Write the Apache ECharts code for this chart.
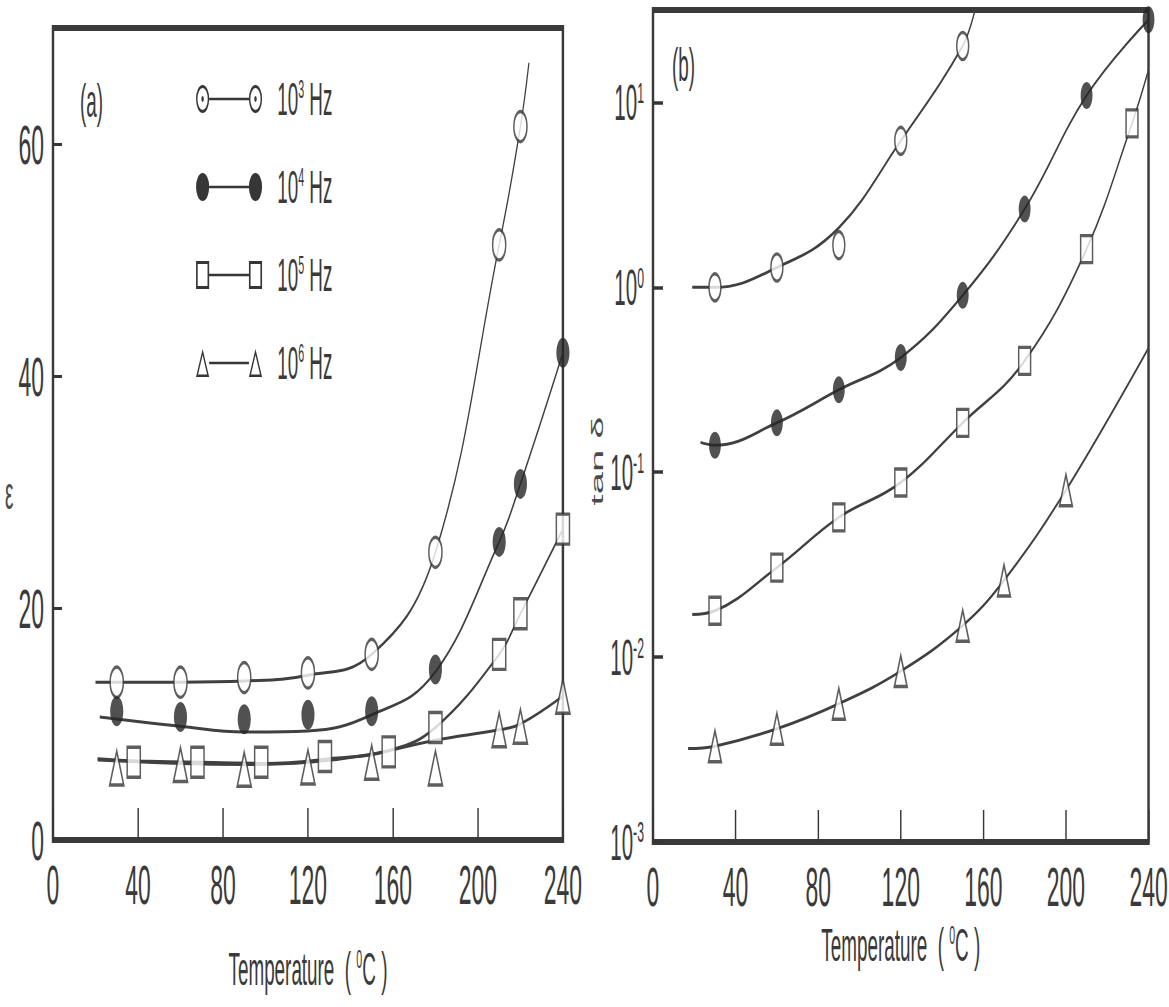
<!DOCTYPE html>
<html>
<head>
<meta charset="utf-8">
<script src="https://cdn.jsdelivr.net/npm/echarts@6/dist/echarts.min.js"></script>
<style>
  html, body { margin: 0; padding: 0; background: #fff; overflow: hidden; }
  /* the figure is horizontally squeezed, so draw wide and squeeze */
  #chart { height: 1007px; transform-origin: 0 0; }
</style>
</head>
<body>
<div id="chart"></div>
<script>
// ---- panel (a): permittivity vs temperature
const a3T = [30, 60, 90, 120, 150, 180, 210, 220];
const a3 = [13.6, 13.6, 14.0, 14.4, 16.0, 24.8, 51.3, 61.5];
const a3CurveT = [20, 60, 90, 120, 150, 180, 210, 220, 224];
const a3Curve = [13.6, 13.6, 13.7, 14.2, 16.0, 24.8, 51.3, 61.5, 67.0];

const a4T = [30, 60, 90, 120, 150, 180, 210, 220, 240];
const a4 = [11.1, 10.6, 10.4, 10.8, 11.1, 14.7, 25.7, 30.7, 42.0];
const a4CurveT = [22, 60, 90, 120, 150, 180, 210, 220, 240];
const a4Curve = [10.6, 9.8, 9.3, 9.4, 10.8, 14.5, 25.7, 30.7, 42.0];

const a5T = [38, 68, 98, 128, 158, 180, 210, 220, 240];
const a5 = [6.7, 6.7, 6.7, 7.2, 7.6, 9.7, 16.0, 19.5, 26.8];
const a5CurveT = [21, 40, 70, 100, 130, 158, 180, 210, 220, 240];
const a5Curve = [7.0, 6.8, 6.7, 6.6, 7.0, 7.7, 9.7, 16.0, 19.5, 26.8];

const a6T = [30, 60, 90, 120, 150, 180, 210, 220, 240];
const a6 = [6.2, 6.5, 6.1, 6.3, 6.7, 6.2, 9.5, 9.8, 12.4];
const a6CurveT = [21, 60, 90, 120, 150, 180, 210, 220, 240];
const a6Curve = [6.9, 6.6, 6.5, 6.7, 7.4, 8.6, 9.5, 10.0, 12.4];

// ---- panel (b): tan delta vs temperature
const b3T = [30, 60, 90, 120, 150];
const b3 = [1.0, 1.28, 1.69, 6.2, 20.2];
const b3CurveT = [19, 30, 60, 90, 120, 150, 156];
const b3Curve = [1.0, 1.0, 1.28, 2.1, 6.2, 20.2, 31.6];

const b4T = [30, 60, 90, 120, 150, 180, 210, 240];
const b4 = [0.140, 0.185, 0.279, 0.417, 0.905, 2.65, 10.9, 28.0];
const b4CurveT = [23, 30, 60, 90, 120, 150, 180, 210, 240];
const b4Curve = [0.145, 0.140, 0.185, 0.279, 0.417, 0.905, 2.65, 10.9, 28.0];

const b5T = [30, 60, 90, 120, 150, 180, 210, 232];
const b5 = [0.0178, 0.0305, 0.057, 0.088, 0.185, 0.40, 1.61, 7.7];
const b5CurveT = [19, 30, 60, 90, 120, 150, 180, 210, 232, 240];
const b5Curve = [0.017, 0.0178, 0.0305, 0.057, 0.088, 0.185, 0.40, 1.61, 7.7, 15.0];

const b6T = [30, 60, 90, 120, 150, 170, 200];
const b6 = [0.0033, 0.0041, 0.0056, 0.0084, 0.0148, 0.026, 0.080];
const b6CurveT = [17, 30, 60, 90, 120, 150, 170, 200, 240];
const b6Curve = [0.0032, 0.0033, 0.0041, 0.0056, 0.0084, 0.0148, 0.026, 0.080, 0.47];

const freqNames = ['10^3 Hz', '10^4 Hz', '10^5 Hz', '10^6 Hz'];
const xTicks = [0, 40, 80, 120, 160, 200, 240];

const S = 0.41;               // horizontal squeeze
const px = v => v / S;        // final px -> drawing px (horizontal only)
const ink = '#363636';
const txt = '#3a3a3a';
const narrow = '"Liberation Sans Narrow", "Liberation Sans", Arial, sans-serif';

const el = document.getElementById('chart');
el.style.width = px(1169) + 'px';
el.style.transform = 'scaleX(' + S + ')';

const pairs = (xs, ys) => xs.map((x, i) => [x, ys[i]]);

// legend icons: marker - line - marker (ring / disc / box / triangle)
const R = 16, H = 28, c1 = R, c2 = 161 - R;
const ring = c => `M${c - R},${H / 2} A${R},${H / 2} 0 1,0 ${c + R},${H / 2} A${R},${H / 2} 0 1,0 ${c - R},${H / 2} Z ` +
  `M${c - R + 3.5},${H / 2} A${R - 3.5},${H / 2 - 3} 0 1,1 ${c + R - 3.5},${H / 2} A${R - 3.5},${H / 2 - 3} 0 1,1 ${c - R + 3.5},${H / 2} Z ` +
  `M${c - 3},${H / 2} A3,3 0 1,0 ${c + 3},${H / 2} A3,3 0 1,0 ${c - 3},${H / 2} Z `;
const disc = c => `M${c - R},${H / 2} A${R},${H / 2} 0 1,0 ${c + R},${H / 2} A${R},${H / 2} 0 1,0 ${c - R},${H / 2} Z `;
const box = c => `M${c - R},0 L${c + R},0 L${c + R},${H} L${c - R},${H} Z ` +
  `M${c - R + 4},3 L${c - R + 4},${H - 3} L${c + R - 4},${H - 3} L${c + R - 4},3 Z `;
const tri = c => `M${c},0 L${c + R},${H} L${c - R},${H} Z ` +
  `M${c},6 L${c - R + 5},${H - 2.5} L${c + R - 5},${H - 2.5} Z `;
const bar = `M${2 * R},${H / 2 - 1.3} L${161 - 2 * R},${H / 2 - 1.3} L${161 - 2 * R},${H / 2 + 1.3} L${2 * R},${H / 2 + 1.3} Z`;
const icons = [ring, disc, box, tri].map(f => 'path://' + f(c1) + f(c2) + bar);

const markerStyles = [
  { symbol: 'circle', itemStyle: { color: '#fff', borderColor: ink, borderWidth: 3.5 } },
  { symbol: 'circle', itemStyle: { color: '#262626' } },
  { symbol: 'rect', itemStyle: { color: '#fff', borderColor: ink, borderWidth: 3.5 } },
  { symbol: 'triangle', itemStyle: { color: '#fff', borderColor: ink, borderWidth: 3.5 } }
];

const panelA = [[a3T, a3, a3CurveT, a3Curve], [a4T, a4, a4CurveT, a4Curve],
                [a5T, a5, a5CurveT, a5Curve], [a6T, a6, a6CurveT, a6Curve]];
const panelB = [[b3T, b3, b3CurveT, b3Curve], [b4T, b4, b4CurveT, b4Curve],
                [b5T, b5, b5CurveT, b5Curve], [b6T, b6, b6CurveT, b6Curve]];

const series = [];
[panelA, panelB].forEach((panel, p) => {
  panel.forEach((d, k) => {
    series.push({
      name: freqNames[k], type: 'line', xAxisIndex: p, yAxisIndex: p,
      data: pairs(d[2], d[3]), smooth: 0.4, symbol: 'none', z: 2,
      lineStyle: { color: '#404040', width: 3 }
    });
    const size = p === 0 ? [32, 30] : [29, 27];
    series.push({
      name: freqNames[k], type: 'scatter', xAxisIndex: p, yAxisIndex: p,
      data: pairs(d[0], d[1]), z: 3,
      symbol: markerStyles[k].symbol,
      symbolSize: k === 3 ? [size[0] + 2, size[1] + 4] : size,
      itemStyle: markerStyles[k].itemStyle
    });
  });
});

const supStyle = size => ({ fontSize: size, verticalAlign: 'top', fontFamily: narrow, color: txt });

function xAxis(grid, gap) {
  return {
    type: 'value', gridIndex: grid, min: xTicks[0], max: xTicks[xTicks.length - 1],
    interval: xTicks[1] - xTicks[0],
    axisLine: { show: false },
    axisTick: { inside: true, length: 32, lineStyle: { color: ink, width: 3.5 } },
    axisLabel: { fontSize: 56, color: txt, margin: 16, fontFamily: narrow },
    splitLine: { show: false },
    name: 'Temperature  ( {s|0}C )', nameLocation: 'middle', nameGap: gap,
    nameTextStyle: { fontSize: 46, color: txt, fontFamily: narrow, rich: { s: supStyle(26) } }
  };
}

const option = {
  backgroundColor: '#fff',
  animation: false,
  textStyle: { fontFamily: narrow },
  grid: [
    { left: px(53), right: px(1169 - 563), top: 28, bottom: 167,
      show: true, borderColor: '#3a3a3a', borderWidth: 6, backgroundColor: 'transparent' },
    { left: px(653), right: px(12), top: 10, bottom: 165,
      show: true, borderColor: '#3a3a3a', borderWidth: 6, backgroundColor: 'transparent' }
  ],
  xAxis: [xAxis(0, 106), xAxis(1, 80)],
  yAxis: [
    {
      type: 'value', gridIndex: 0, min: 0, max: 70, interval: 20,
      axisLine: { show: false },
      axisTick: { inside: true, length: px(9), lineStyle: { color: ink, width: 3 } },
      axisLabel: { fontSize: 56, color: txt, margin: px(9), showMaxLabel: false, fontFamily: narrow },
      splitLine: { show: false }
    },
    {
      type: 'log', logBase: 10, gridIndex: 1, min: 0.001, max: 31.62, interval: 1,
      axisLine: { show: false },
      axisTick: { inside: true, length: px(10), lineStyle: { color: ink, width: 3.5 } },
      axisLabel: {
        fontSize: 50, color: txt, margin: px(9), showMaxLabel: false, fontFamily: narrow,
        formatter: v => '10{s|' + Math.round(Math.log10(v)) + '}',
        rich: { s: supStyle(30) }
      },
      splitLine: { show: false },
      name: 'tan δ', nameLocation: 'middle', nameGap: px(48),
      nameTextStyle: { fontSize: 40, color: '#4a4a4a', fontFamily: narrow, padding: [0, 70, 0, 0] }
    }
  ],
  legend: {
    orient: 'vertical', left: px(194), top: 71,
    itemWidth: 161, itemHeight: H, itemGap: 42, selectedMode: false,
    data: freqNames.map((n, k) => ({ name: n, icon: icons[k], itemStyle: { color: ink, borderWidth: 0 } })),
    formatter: n => n.replace('10^', '10{s|').replace(' Hz', '} Hz'),
    textStyle: { fontSize: 46, color: txt, fontFamily: narrow, padding: [0, 0, 0, 32], rich: { s: supStyle(26) } }
  },
  graphic: [
    { type: 'text', left: px(80), top: 78, style: { text: '(a)', fontSize: 46, fontFamily: narrow, fill: txt } },
    { type: 'text', left: px(672), top: 42, style: { text: '(b)', fontSize: 46, fontFamily: narrow, fill: txt } },
    // y-axis symbol of panel (a), set low on the left margin as in the figure
    { type: 'text', left: px(5), top: 470, style: { text: 'ε', fontSize: 46, fontFamily: narrow, fill: '#4a4a4a' } }
  ],
  series: series
};

const chart = echarts.init(el, null, { renderer: 'svg' });
chart.setOption(option);
</script>
</body>
</html>
